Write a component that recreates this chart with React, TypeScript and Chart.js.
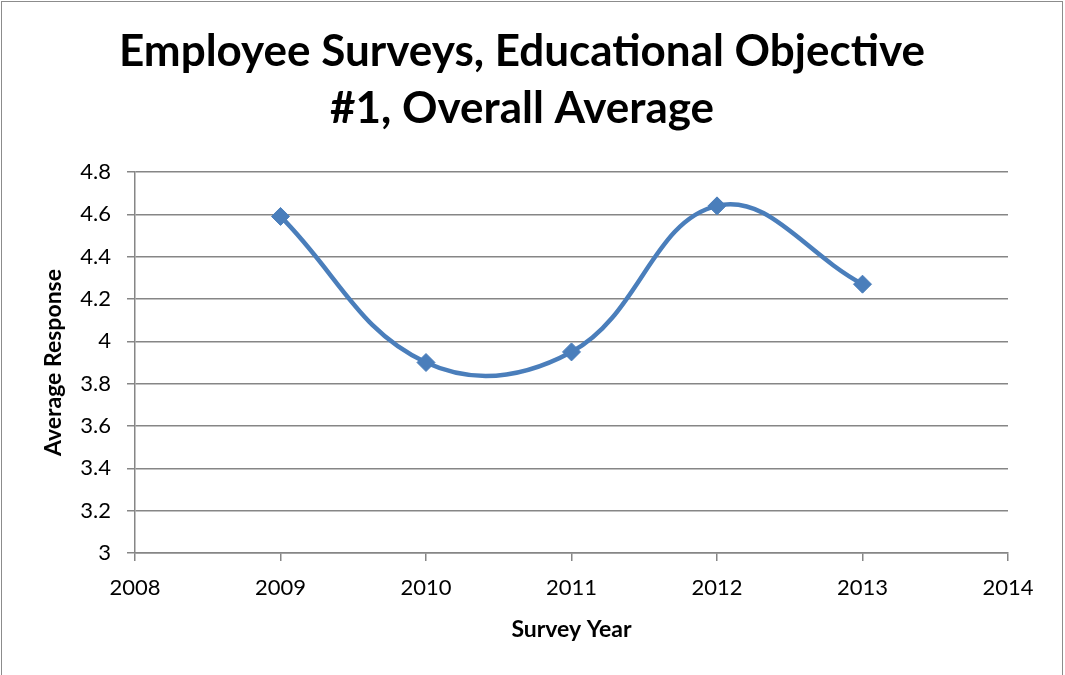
import React, { useEffect, useRef } from "react";
import { Chart, registerables } from "chart.js";

Chart.register(...registerables);

const years = [2009, 2010, 2011, 2012, 2013];
const averages = [4.59, 3.9, 3.95, 4.64, 4.27];
const titleLines = ["Employee Surveys, Educational Objective", "#1, Overall Average"];
const xTitle = "Survey Year";
const yTitle = "Average Response";

const FONT = "Lato, 'Liberation Sans', sans-serif";
const GRID = "#868686";
const BLUE = "#4a7ebb";

export default function App() {
  const ref = useRef<HTMLCanvasElement | null>(null);
  useEffect(() => {
    document.body.style.margin = "0";
    const ctx = ref.current!.getContext("2d")!;
    const chart = new Chart(ctx, {
      type: "line",
      data: {
        datasets: [
          {
            data: years.map((y, i) => ({ x: y, y: averages[i] })),
            borderColor: BLUE,
            backgroundColor: BLUE,
            borderWidth: 4.5,
            tension: 0.4,
            pointStyle: "rectRot",
            pointRadius: 9,
            pointBorderWidth: 1,
            pointBackgroundColor: BLUE,
            pointBorderColor: BLUE,
            fill: false,
          },
        ],
      },
      options: {
        animation: false,
        responsive: false,
        devicePixelRatio: 1,
        layout: { padding: { left: 36, right: 57, top: 0, bottom: 28 } },
        plugins: {
          legend: { display: false },
          tooltip: { enabled: false },
          title: {
            display: true,
            text: titleLines,
            color: "#000",
            font: { family: FONT, size: 44, weight: "bold", lineHeight: 1.3 },
            padding: { top: 23.5, bottom: 34.1 },
          },
        },
        scales: {
          x: {
            type: "linear",
            min: 2008,
            max: 2014,
            ticks: {
              stepSize: 1,
              color: "#000",
              font: { family: FONT, size: 22 },
              padding: 14,
              callback: (v: any) => String(v),
              maxRotation: 0,
            },
            grid: { drawOnChartArea: false, drawTicks: true, tickLength: 8, color: GRID, lineWidth: 1.5 },
            border: { display: true, color: GRID, width: 1.5 },
            title: {
              display: true,
              text: xTitle,
              color: "#000",
              font: { family: FONT, size: 23, weight: "bold" },
              padding: { top: 4, bottom: 4 },
            },
            afterFit: (s: any) => {
              s.height = 675 - 553 - 28;
            },
          },
          y: {
            min: 3,
            max: 4.8,
            ticks: {
              stepSize: 0.2,
              color: "#000",
              font: { family: FONT, size: 22 },
              padding: 16,
              callback: (v: any) => String(Math.round(Number(v) * 10) / 10),
            },
            grid: { color: GRID, lineWidth: 1.5, tickLength: 8 },
            border: { display: true, color: GRID, width: 1.5 },
            title: {
              display: true,
              text: yTitle,
              color: "#000",
              font: { family: FONT, size: 23, weight: "bold" },
              padding: { top: 4, bottom: 4 },
            },
            afterFit: (s: any) => {
              s.width = 135 - 36;
            },
          },
        },
      },
    });
    return () => chart.destroy();
  }, []);
  return (
    <div
      style={{
        position: "absolute",
        left: 0,
        top: 0,
        width: 1065,
        height: 675,
        overflow: "hidden",
        background: "#fff",
      }}
    >
      <canvas ref={ref} width={1065} height={675} style={{ display: "block" }} />
      <div
        style={{
          position: "absolute",
          left: 1,
          top: 1,
          width: 1062,
          height: 700,
          border: "1.5px solid #8c8c8c",
          boxSizing: "border-box",
          pointerEvents: "none",
        }}
      />
    </div>
  );
}
